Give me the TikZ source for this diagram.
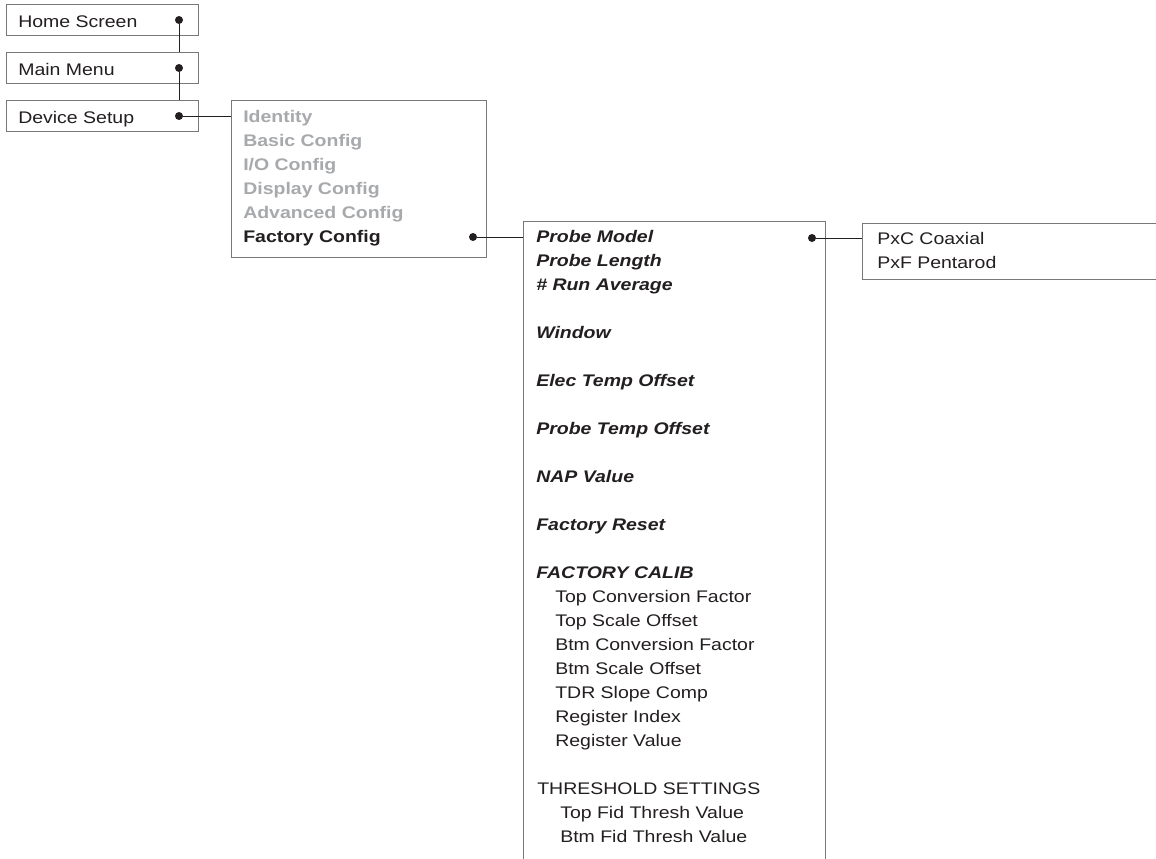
\documentclass[tikz,border=0pt]{standalone}
\usepackage{fontspec}
\setmainfont{Liberation Sans}[FakeStretch=1.16]
\usetikzlibrary{positioning}
\definecolor{inktext}{HTML}{231F20}
\definecolor{menugrey}{HTML}{A7A9AC}
\definecolor{framegrey}{HTML}{77787B}

\begin{document}
\begin{tikzpicture}[
    x=0.75pt, y=-0.75pt,
    menubox/.style={draw=framegrey, line width=0.75pt, anchor=north west, inner sep=0pt},
    item/.style={anchor=base west, inner sep=0pt, text=inktext, font=\fontsize{12.6}{18}\selectfont},
    ghostitem/.style={item, text=menugrey, font=\fontsize{12.6}{18}\selectfont\bfseries},
    boldasitem/.style={item, font=\fontsize{12.6}{18}\selectfont\bfseries},
    optitem/.style={item, font=\fontsize{12.6}{18}\selectfont\bfseries\itshape},
    dot/.style={circle, fill=inktext, inner sep=0pt, minimum size=6pt},
    wire/.style={draw=inktext, line width=0.75pt}
]
\fill[white] (0,0) rectangle (1156,858);
\clip (0,0) rectangle (1156,858);

% menu path on the left
\node[menubox, minimum width=144pt, minimum height=23.25pt] (home) at (6,4) {};
\node[menubox, minimum width=144pt, minimum height=23.25pt] (mainmenu) at (6,52) {};
\node[menubox, minimum width=144pt, minimum height=23.25pt] (devsetup) at (6,100) {};
\node[item] (thome) at (18,27) {Home Screen};
\node[item] (tmain) at (18,75) {Main Menu};
\node[item] (tdev) at (18,123) {Device Setup};
\node[dot] (dhome) at (179,20) {};
\node[dot] (dmain) at (179,68) {};
\node[dot] (ddev) at (179,116) {};

% device setup submenu
\node[menubox, minimum width=191.25pt, minimum height=117.75pt] (setup) at (231,100) {};
\foreach \txt [count=\k from 0] in {Identity, Basic Config, I/O Config, Display Config, Advanced Config}
    \node[ghostitem] (s\k) at (243,{122+24*\k}) {\txt};
\node[boldasitem] (s5) at (243,242) {Factory Config};
\node[dot] (dfact) at (473,237) {};

% factory config list (open at the bottom)
\node[anchor=north west, inner sep=0pt, minimum width=226.5pt, minimum height=487.5pt] (factbox) at (523,221) {};
\draw[draw=framegrey, line width=0.75pt] (factbox.south west) -- (factbox.north west)
    -- (factbox.north east) -- (factbox.south east);
\foreach \k/\x/\sty/\txt in {0/536/optitem/Probe Model, 1/536/optitem/Probe Length,
    2/536/optitem/\# Run Average, 4/536/optitem/Window, 6/536/optitem/Elec Temp Offset,
    8/536/optitem/Probe Temp Offset, 10/536/optitem/NAP Value, 12/536/optitem/Factory Reset,
    14/536/optitem/FACTORY CALIB, 15/555/item/Top Conversion Factor,
    16/555/item/Top Scale Offset, 17/555/item/Btm Conversion Factor,
    18/555/item/Btm Scale Offset, 19/555/item/TDR Slope Comp, 20/555/item/Register Index,
    21/555/item/Register Value, 23/537/item/THRESHOLD SETTINGS,
    24/560/item/Top Fid Thresh Value, 25/560/item/Btm Fid Thresh Value}
    \node[\sty] (f\k) at (\x,{242+24*\k}) {\txt};
\node[dot] (dprobe) at (812,238) {};

% probe model choices
\node[menubox, minimum width=231pt, minimum height=42pt] (probebox) at (862,223) {};
\node[item] (p0) at (877,244) {PxC Coaxial};
\node[item] (p1) at (877,268) {PxF Pentarod};

\draw[wire] (dhome) -- (dhome |- mainmenu.north);
\draw[wire] (dmain) -- (dmain |- devsetup.north);
\draw[wire] (ddev) -- (ddev -| setup.west);
\draw[wire] (dfact) -- (dfact -| factbox.west);
\draw[wire] (dprobe) -- (dprobe -| probebox.west);
\end{tikzpicture}
\end{document}
